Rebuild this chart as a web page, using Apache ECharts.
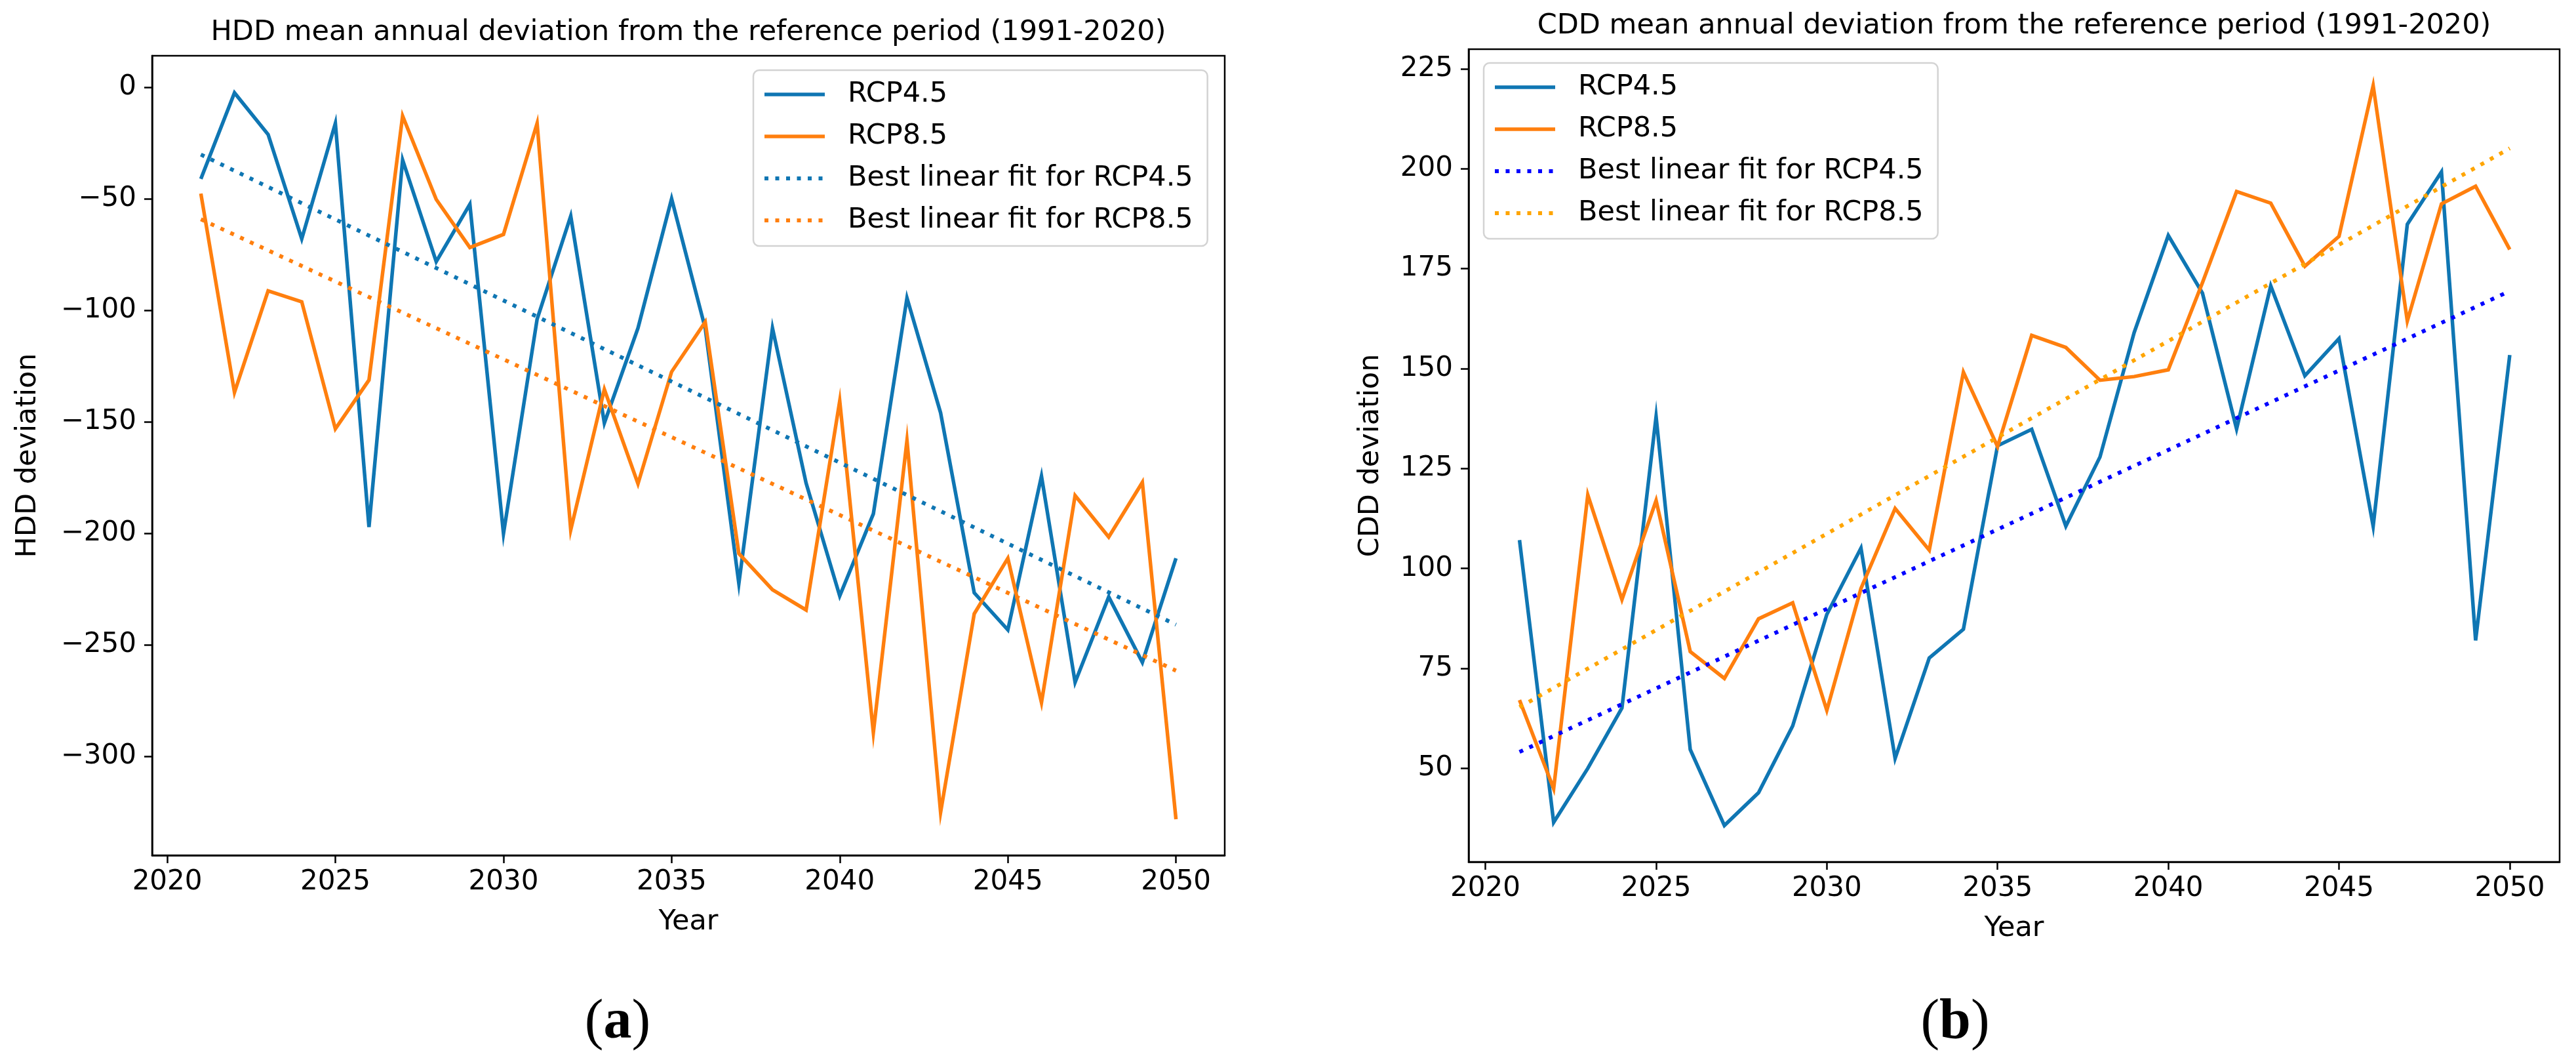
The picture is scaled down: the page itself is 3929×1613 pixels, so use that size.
<!DOCTYPE html>
<html>
<head>
<meta charset="utf-8">
<script src="https://cdn.jsdelivr.net/npm/echarts@6/dist/echarts.min.js"></script>
<style>
  html, body { margin: 0; padding: 0; background: #ffffff; }
  #chart { width: 3929px; height: 1613px; }
</style>
</head>
<body>
<div id="chart"></div>
<script>
// ---- data ----
const years = [2021, 2022, 2023, 2024, 2025, 2026, 2027, 2028, 2029, 2030,
               2031, 2032, 2033, 2034, 2035, 2036, 2037, 2038, 2039, 2040,
               2041, 2042, 2043, 2044, 2045, 2046, 2047, 2048, 2049, 2050];

const hddRcp45 = [-41.0, -2.4, -21.1, -67.9, -16.1, -197.1, -32.5, -78.1, -52.4, -200.0,
                  -103.9, -57.7, -150.5, -107.9, -49.9, -108.0, -222.4, -107.9, -177.4, -228.0,
                  -191.2, -94.4, -145.9, -226.6, -243.2, -174.3, -266.7, -228.4, -257.8, -211.1];
const hddRcp85 = [-47.6, -136.7, -91.2, -96.1, -153.1, -131.2, -12.8, -50.2, -71.8, -65.9,
                  -16.1, -198.4, -135.4, -177.7, -127.5, -105.2, -209.0, -225.2, -234.3, -140.6,
                  -289.2, -158.3, -325.0, -236.0, -211.1, -275.8, -183.0, -201.6, -177.1, -328.1];
const fitYears = [2021, 2050];
const hddFit45 = [-30.1, -240.9];
const hddFit85 = [-59.1, -261.5];

const cddRcp45 = [107.1, 36.5, 50.0, 65.1, 138.0, 54.7, 35.7, 43.9, 60.6, 88.5,
                  105.1, 52.5, 77.6, 84.8, 130.7, 134.8, 110.6, 127.9, 159.0, 183.3,
                  168.9, 134.9, 170.7, 148.2, 157.5, 110.6, 186.1, 199.2, 82.0, 153.4];
const cddRcp85 = [67.1, 44.9, 118.4, 92.2, 117.0, 79.2, 72.5, 87.4, 91.4, 64.5,
                  95.0, 115.0, 104.6, 149.1, 130.5, 158.3, 155.3, 147.1, 148.0, 149.7,
                  171.5, 194.3, 191.4, 175.6, 183.1, 220.8, 161.9, 191.2, 195.6, 179.8];
const cddFit45 = [54.1, 169.4];
const cddFit85 = [65.3, 205.1];

const xTicks = [2020, 2025, 2030, 2035, 2040, 2045, 2050];
const hddTicks = [-300, -250, -200, -150, -100, -50, 0];
const cddTicks = [50, 75, 100, 125, 150, 175, 200, 225];

const seriesNames = ['RCP4.5', 'RCP8.5', 'Best linear fit for RCP4.5', 'Best linear fit for RCP8.5'];
const titles = ['HDD mean annual deviation from the reference period (1991-2020)',
                'CDD mean annual deviation from the reference period (1991-2020)'];

// ---- styling ----
const FONT = 'DejaVu Sans';
const C_BLUE = '#0f76b3';
const C_ORANGE = '#ff7f0e';
const C_FIT45_B = '#0000ff';
const C_FIT85_B = '#ffa500';
const LW = 5.5;
const DOT = [6, 10.5];

function pairs(xs, ys) { return xs.map((x, i) => [x, ys[i]]); }
const minus = v => String(v).replace('-', '\u2212');

const panels = [
  { left: 232, top: 85, width: 1636, height: 1219, xmin: 2019.55, xmax: 2051.45, ymin: -344.3, ymax: 14.2,
    yTicks: hddTicks, yName: 'HDD deviation', yGap: 168 },
  { left: 2240, top: 75, width: 1664, height: 1239, xmin: 2019.51, xmax: 2051.46, ymin: 26.6, ymax: 229.9,
    yTicks: cddTicks, yName: 'CDD deviation', yGap: 128 }
];

const grids = panels.map(p => ({
  left: p.left, top: p.top, width: p.width, height: p.height,
  show: true, borderColor: '#000', borderWidth: 2.5, backgroundColor: 'transparent'
}));

const xAxes = panels.map((p, i) => ({
  type: 'value', gridIndex: i, min: p.xmin, max: p.xmax,
  name: 'Year', nameLocation: 'middle', nameGap: 80,
  nameTextStyle: { fontFamily: FONT, fontSize: 43, color: '#000' },
  axisLine: { show: true, onZero: false, lineStyle: { color: '#000', width: 2.5 } },
  axisTick: { show: true, customValues: xTicks, length: 12, lineStyle: { color: '#000', width: 2.5 } },
  axisLabel: { show: true, customValues: xTicks, fontFamily: FONT, fontSize: 42, color: '#000', margin: 20,
               formatter: v => String(Math.round(v)) },
  splitLine: { show: false }
}));

const yAxes = panels.map((p, i) => ({
  type: 'value', gridIndex: i, min: p.ymin, max: p.ymax,
  name: p.yName, nameLocation: 'middle', nameGap: p.yGap,
  nameTextStyle: { fontFamily: FONT, fontSize: 43, color: '#000' },
  axisLine: { show: true, onZero: false, lineStyle: { color: '#000', width: 2.5 } },
  axisTick: { show: true, customValues: p.yTicks, length: 12, lineStyle: { color: '#000', width: 2.5 } },
  axisLabel: { show: true, customValues: p.yTicks, fontFamily: FONT, fontSize: 42, color: '#000', margin: 24,
               formatter: v => minus(Math.round(v)) },
  splitLine: { show: false }
}));

function lineSeries(name, data, color, idx, dotted) {
  return {
    type: 'line', name: name, xAxisIndex: idx, yAxisIndex: idx, data: data,
    symbol: 'none', silent: true, animation: false, z: dotted ? 3 : 2,
    lineStyle: { color: color, width: dotted ? 6 : LW, type: dotted ? DOT : 'solid', cap: 'butt', join: 'miter' },
    itemStyle: { color: color }
  };
}

const series = [
  lineSeries(seriesNames[0], pairs(years, hddRcp45), C_BLUE, 0, false),
  lineSeries(seriesNames[1], pairs(years, hddRcp85), C_ORANGE, 0, false),
  lineSeries(seriesNames[2], pairs(fitYears, hddFit45), C_BLUE, 0, true),
  lineSeries(seriesNames[3], pairs(fitYears, hddFit85), C_ORANGE, 0, true),
  lineSeries(seriesNames[0], pairs(years, cddRcp45), C_BLUE, 1, false),
  lineSeries(seriesNames[1], pairs(years, cddRcp85), C_ORANGE, 1, false),
  lineSeries(seriesNames[2], pairs(fitYears, cddFit45), C_FIT45_B, 1, true),
  lineSeries(seriesNames[3], pairs(fitYears, cddFit85), C_FIT85_B, 1, true)
];

function legendFor(left, top, colors) {
  return {
    orient: 'vertical', left: left, top: top,
    itemWidth: 92, itemHeight: 20, itemGap: 14,
    padding: [12, 22, 14, 14],
    backgroundColor: 'rgba(255,255,255,0.85)',
    borderColor: '#d3d3d3', borderWidth: 2.5, borderRadius: 9,
    selectedMode: false,
    textStyle: { fontFamily: FONT, fontSize: 43, color: '#000', lineHeight: 50, padding: [0, 0, 0, 30] },
    data: seriesNames.map((n, k) => ({
      name: n,
      lineStyle: { color: colors[k], width: k < 2 ? LW : 6, type: k < 2 ? 'solid' : DOT, cap: 'butt' },
      itemStyle: { color: colors[k], opacity: 0 }
    }))
  };
}

const legends = [
  legendFor(1149, 107, [C_BLUE, C_ORANGE, C_BLUE, C_ORANGE]),
  legendFor(2263, 96, [C_BLUE, C_ORANGE, C_FIT45_B, C_FIT85_B])
];

function txt(x, y, text, size) {
  return { type: 'text', x: x, y: y, silent: true,
    style: { text: text, fontFamily: FONT, fontSize: size, fill: '#000',
             align: 'center', verticalAlign: 'middle', textAlign: 'center', textVerticalAlign: 'middle' } };
}
function panelLabel(x, y, letter) {
  return { type: 'text', x: x, y: y, silent: true,
    style: { text: '{n|(}{b|' + letter + '}{n|)}', align: 'center', verticalAlign: 'middle',
             textAlign: 'center', textVerticalAlign: 'middle',
             rich: { n: { fontFamily: 'Liberation Serif', fontSize: 86, fill: '#000', color: '#000' },
                     b: { fontFamily: 'Liberation Serif', fontSize: 86, fontWeight: 'bold', fill: '#000', color: '#000' } } } };
}

const option = {
  backgroundColor: '#ffffff',
  animation: false,
  grid: grids,
  xAxis: xAxes,
  yAxis: yAxes,
  legend: legends,
  series: series,
  graphic: [
    txt(1050, 50, titles[0], 43),
    txt(3072, 40, titles[1], 43),
    panelLabel(942, 1560, 'a'),
    panelLabel(2982, 1560, 'b')
  ]
};

const chart = echarts.init(document.getElementById('chart'), null, { renderer: 'canvas' });
chart.setOption(option);
</script>
</body>
</html>
